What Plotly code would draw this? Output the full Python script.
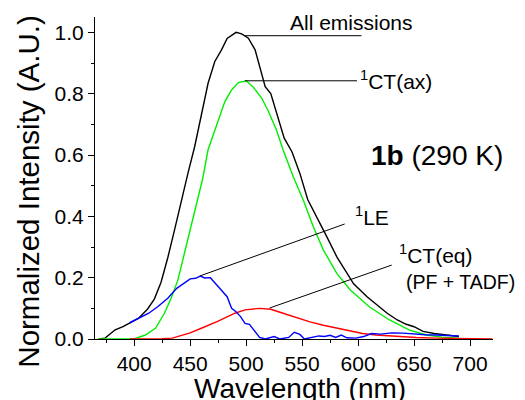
import plotly.graph_objects as go

# ---- data ----
wl_all = [368, 374, 383, 390, 395, 404, 412, 418, 424, 430, 436, 442, 448, 454, 460, 466,
          472, 478, 483, 487, 491, 496, 502, 508, 512, 517, 522, 528, 534, 541, 548, 555,
          563, 572, 581, 588, 596, 608, 617, 626, 635, 643, 650, 658, 668, 679, 690]
int_all = [0.000, 0.003, 0.030, 0.040, 0.050, 0.068, 0.098, 0.130, 0.185, 0.265, 0.355,
           0.450, 0.540, 0.627, 0.736, 0.834, 0.905, 0.943, 0.980, 0.990, 1.000, 0.995,
           0.981, 0.943, 0.888, 0.823, 0.800, 0.730, 0.655, 0.610, 0.540, 0.455, 0.400,
           0.334, 0.268, 0.225, 0.180, 0.138, 0.110, 0.084, 0.062, 0.048, 0.040, 0.025,
           0.018, 0.013, 0.008]

wl_ax = [368, 385, 400, 410, 419, 427, 433, 439, 445, 451, 457, 461, 466, 474, 481, 487,
         493, 500, 506, 514, 520, 527, 533, 542, 551, 560, 569, 581, 593, 610, 628, 646,
         661, 675, 690]
int_ax = [0.000, 0.000, 0.000, 0.013, 0.035, 0.084, 0.133, 0.192, 0.280, 0.366, 0.453,
          0.520, 0.617, 0.704, 0.774, 0.812, 0.836, 0.842, 0.823, 0.785, 0.742, 0.682,
          0.617, 0.530, 0.453, 0.366, 0.290, 0.214, 0.160, 0.105, 0.062, 0.029, 0.013,
          0.006, 0.003]

wl_le = [396, 404, 413, 421, 430, 438, 445, 450, 455, 459, 463, 468, 475, 483, 487, 491,
         495, 499, 503, 508, 512, 517, 525, 530, 538, 543, 548, 552, 560, 565, 570, 575,
         580, 585, 590, 598, 605, 612, 620, 630, 640, 650, 660, 670, 680, 690]
int_le = [0.053, 0.067, 0.084, 0.105, 0.133, 0.165, 0.182, 0.196, 0.198, 0.205, 0.199,
          0.200, 0.171, 0.138, 0.100, 0.089, 0.073, 0.051, 0.048, 0.025, 0.005, 0.000,
          0.008, 0.000, 0.005, 0.022, 0.015, 0.000, 0.005, 0.010, 0.008, 0.012, 0.005,
          0.013, 0.004, 0.003, 0.008, 0.018, 0.016, 0.020, 0.019, 0.016, 0.014, 0.013,
          0.012, 0.010]

wl_eq = [396, 410, 425, 434, 445, 450, 460, 475, 490, 499, 512, 522, 533, 545, 557, 569,
         581, 593, 604, 616, 628, 640, 652, 670, 690, 720]
int_eq = [0.000, 0.000, 0.001, 0.003, 0.013, 0.020, 0.035, 0.058, 0.084, 0.095, 0.100,
          0.097, 0.084, 0.070, 0.056, 0.045, 0.035, 0.025, 0.018, 0.013, 0.010, 0.007,
          0.005, 0.003, 0.002, 0.000]

x_ticks = [400, 450, 500, 550, 600, 650, 700]
y_ticks = [0.0, 0.2, 0.4, 0.6, 0.8, 1.0]
y_tick_text = ["0.0", "0.2", "0.4", "0.6", "0.8", "1.0"]

# leader lines: (x0, y0, x1, y1) in data units
leaders = [
    (499, 0.989, 603, 0.989),
    (499, 0.842, 599, 0.842),
    (459, 0.206, 588, 0.375),
    (521, 0.101, 630, 0.241),
]

FONT = "Liberation Sans, Arial, sans-serif"

fig = go.Figure()
for wl, val, col in [(wl_all, int_all, "#000000"), (wl_ax, int_ax, "#00ee00"),
                     (wl_eq, int_eq, "#ff0000"), (wl_le, int_le, "#0000ff")]:
    fig.add_trace(go.Scatter(x=wl, y=val, mode="lines",
                             line=dict(color=col, width=1.4), showlegend=False))

for x0, y0, x1, y1 in leaders:
    fig.add_shape(type="line", xref="x", yref="y", x0=x0, y0=y0, x1=x1, y1=y1,
                  line=dict(color="#000000", width=1))

labels = [
    ("All emissions", 537, 1.031, 21),
    ("<sup>1</sup>CT(ax)", 600, 0.845, 21),
    ("<sup>1</sup>LE", 595, 0.402, 21),
    ("<sup>1</sup>CT(eq)", 635, 0.278, 21),
    ("(PF + TADF)", 641, 0.187, 19.5),
]
for txt, x, y, sz in labels:
    fig.add_annotation(text=txt, x=x, y=y, xref="x", yref="y", showarrow=False,
                       xanchor="left", yanchor="middle",
                       font=dict(family=FONT, size=sz, color="#000000"))

fig.add_annotation(text="<b>1b</b> (290 K)", x=610, y=0.60, xref="x", yref="y",
                   showarrow=False, xanchor="left", yanchor="middle",
                   font=dict(family=FONT, size=28, color="#000000"))

# axis titles
fig.add_annotation(text="Wavelength (nm)", x=0.516, y=-0.1, xref="paper", yref="paper",
                   showarrow=False, xanchor="center", yanchor="top",
                   font=dict(family=FONT, size=28, color="#000000"))
fig.add_annotation(text="Normalized Intensity (A.U.)", x=-0.168, y=0.458, xref="paper",
                   yref="paper", showarrow=False, xanchor="center", yanchor="middle",
                   textangle=-90, font=dict(family=FONT, size=29.5, color="#000000"))

# the page places the figure 8 px in from the top-left corner
fig.update_layout(
    width=517, height=392,
    margin=dict(l=87, r=32, t=9, b=61),
    plot_bgcolor="white", paper_bgcolor="white",
    font=dict(family=FONT, size=21, color="#000000"),
)
fig.update_xaxes(range=[365, 720.5], tickvals=x_ticks, showline=True, linecolor="black",
                 linewidth=1, ticks="outside", ticklen=6, tickcolor="black", showgrid=False,
                 zeroline=False, tickfont=dict(family=FONT, size=21),
                 minor=dict(ticks="outside", ticklen=3, dtick=25, tick0=375, tickcolor="black"))
fig.update_yaxes(range=[0, 1.05], tickvals=y_ticks, ticktext=y_tick_text, showline=True,
                 linecolor="black", linewidth=1, ticks="outside", ticklen=6, tickcolor="black",
                 showgrid=False, zeroline=False, tickfont=dict(family=FONT, size=21),
                 minor=dict(ticks="outside", ticklen=3, dtick=0.1, tick0=0, tickcolor="black"))

fig.write_html("out.html")
